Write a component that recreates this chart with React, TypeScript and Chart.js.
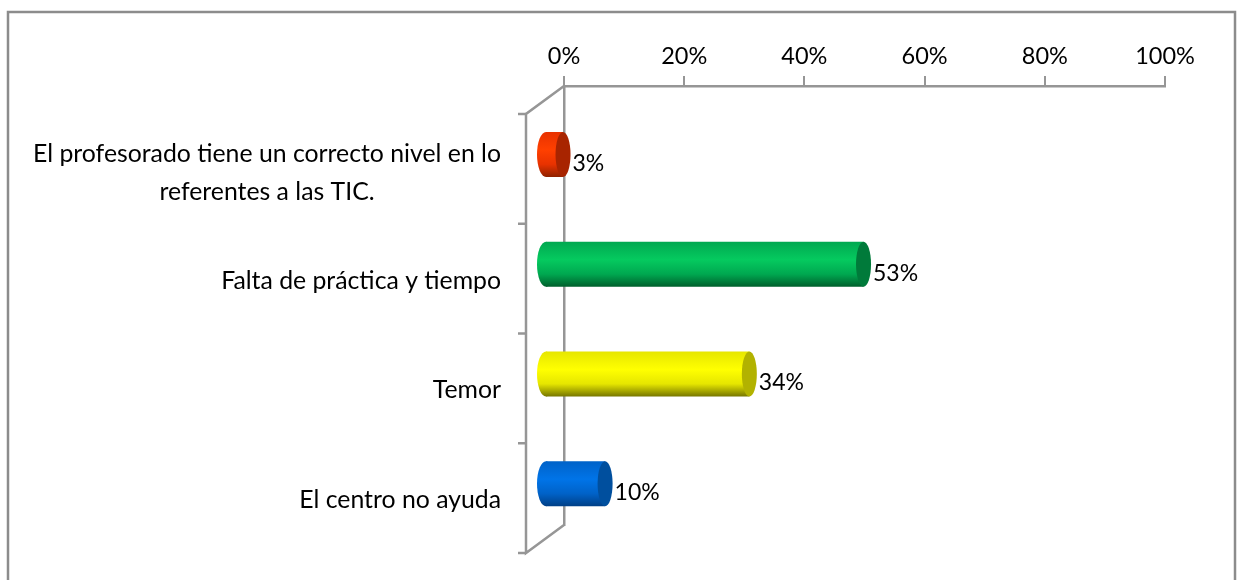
import React, { useEffect, useRef } from "react";
import { Chart, registerables } from "chart.js";

Chart.register(...registerables);

const categories: (string | string[])[] = [
  ["El profesorado tiene un correcto nivel en lo", "referentes a las TIC."],
  "Falta de práctica y tiempo",
  "Temor",
  "El centro no ayuda",
];
const values = [3, 53, 34, 10];
const xTicks = [0, 20, 40, 60, 80, 100];
const bodyEdge = ["#e83200", "#00a850", "#e6e600", "#0062c8"];
const bodyLight = ["#ff4000", "#05ca5f", "#ffff00", "#0074e8"];
const bodyDark = ["#8f2200", "#005f2c", "#767600", "#003f86"];
const capColors = ["#a82400", "#007a3a", "#b2b200", "#004f9e"];

const AXIS = "#969696";
const FONT = "Lato, Carlito, sans-serif";
const DEPTH_X = -38;
const DEPTH_Y = 28;
const BAR_DX = -19;
const BAR_DY = 13.6;
const CAP_RX = 7.5;
const BASE_RX = 9;

function bodyGradient(chart: any, i: number, h: number) {
  const cy = chart.scales.y.getPixelForValue(i);
  const g = chart.ctx.createLinearGradient(0, cy - h / 2, 0, cy + h / 2);
  g.addColorStop(0, bodyEdge[i]);
  g.addColorStop(0.4, bodyLight[i]);
  g.addColorStop(0.72, bodyEdge[i]);
  g.addColorStop(1, bodyDark[i]);
  return g;
}

const cylinderPlugin = {
  id: "cylinder",
  beforeDatasetsDraw(chart: any) {
    const { ctx, chartArea: a, scales } = chart;
    const y = scales.y;
    const fx = a.left + DEPTH_X;
    ctx.save();
    ctx.strokeStyle = AXIS;
    ctx.lineWidth = 2.5;
    ctx.beginPath();
    ctx.moveTo(a.left, a.top);
    ctx.lineTo(fx, a.top + DEPTH_Y);
    ctx.lineTo(fx, a.bottom + DEPTH_Y);
    ctx.lineTo(a.left, a.bottom);
    ctx.stroke();
    for (let i = 0; i <= categories.length; i++) {
      const ty = y.getPixelForValue(i - 0.5) + DEPTH_Y;
      ctx.beginPath();
      ctx.moveTo(fx - 8, ty);
      ctx.lineTo(fx, ty);
      ctx.stroke();
    }
    // category labels: right-aligned block, lines centred within it
    ctx.fillStyle = "#000";
    ctx.font = `24.8px ${FONT}`;
    ctx.textBaseline = "middle";
    ctx.textAlign = "center";
    categories.forEach((c, i) => {
      const lines = Array.isArray(c) ? c : [c];
      const w = Math.max(...lines.map((l) => ctx.measureText(l).width));
      const cy = y.getPixelForValue(i) + (lines.length > 1 ? 32 : 30);
      lines.forEach((l, k) => {
        ctx.fillText(l, 501 - w / 2, cy + (k - (lines.length - 1) / 2) * 38);
      });
    });
    ctx.restore();
  },
  beforeDatasetDraw(chart: any) {
    const { ctx } = chart;
    ctx.save();
    ctx.translate(BAR_DX, BAR_DY);
    chart.getDatasetMeta(0).data.forEach((el: any, i: number) => {
      const { y, height, base } = el.getProps(["y", "height", "base"], true);
      ctx.fillStyle = bodyGradient(chart, i, height);
      ctx.beginPath();
      ctx.ellipse(base, y, BASE_RX, height / 2, 0, 0, Math.PI * 2);
      ctx.fill();
    });
  },
  afterDatasetDraw(chart: any) {
    const { ctx } = chart;
    chart.getDatasetMeta(0).data.forEach((el: any, i: number) => {
      const { x, y, height } = el.getProps(["x", "y", "height"], true);
      ctx.fillStyle = capColors[i];
      ctx.beginPath();
      ctx.ellipse(x, y, CAP_RX, height / 2, 0, 0, Math.PI * 2);
      ctx.fill();
      ctx.fillStyle = "#000";
      ctx.font = `23px ${FONT}`;
      ctx.textAlign = "left";
      ctx.textBaseline = "middle";
      ctx.fillText(`${values[i]}%`, x + CAP_RX + 2, y + 9);
    });
    ctx.restore();
  },
  beforeDraw(chart: any) {
    const { ctx } = chart;
    ctx.save();
    ctx.strokeStyle = "#8c8c8c";
    ctx.lineWidth = 2.5;
    ctx.strokeRect(8, 12, 1227, 600);
    ctx.restore();
  },
};

export default function App() {
  const ref = useRef<HTMLCanvasElement | null>(null);

  useEffect(() => {
    document.body.style.margin = "0";
    document.body.style.background = "#fff";
    const chart = new Chart(ref.current!, {
      type: "bar",
      data: {
        labels: categories as any,
        datasets: [
          {
            data: values,
            clip: false as any,
            barPercentage: 0.41,
            categoryPercentage: 1,
            borderWidth: 0,
            backgroundColor: (c: any) => {
              const ch = c.chart;
              if (!ch.scales.y || !ch.chartArea) return bodyLight[c.dataIndex];
              const band = ch.chartArea.height / categories.length;
              return bodyGradient(ch, c.dataIndex, band * 0.41);
            },
          },
        ],
      },
      options: {
        indexAxis: "y",
        responsive: false,
        animation: false,
        layout: { padding: { top: 0, left: 0, right: 75, bottom: 55 } },
        plugins: { legend: { display: false }, tooltip: { enabled: false } },
        scales: {
          x: {
            position: "top",
            min: 0,
            max: 100,
            afterBuildTicks: (s: any) => {
              s.ticks = xTicks.map((value) => ({ value }));
            },
            afterFit: (s: any) => {
              s.height = 86;
            },
            grid: {
              drawOnChartArea: false,
              drawTicks: true,
              tickLength: 10,
              color: AXIS,
              lineWidth: 2,
            },
            border: { color: AXIS, width: 2.5 },
            ticks: {
              color: "#000",
              padding: 5,
              maxRotation: 0,
              font: { family: FONT, size: 23.5 },
              callback: (v: any) => `${v}%`,
            },
          },
          y: {
            afterFit: (s: any) => {
              s.width = 564;
            },
            grid: { display: false },
            border: { display: true, color: AXIS, width: 2.5 },
            ticks: { display: false },
          },
        },
      },
      plugins: [cylinderPlugin],
    } as any);
    return () => chart.destroy();
  }, []);

  return (
    <div style={{ position: "absolute", left: 0, top: 0, width: 1240, height: 580 }}>
      <canvas ref={ref} width={1240} height={580} style={{ display: "block" }} />
    </div>
  );
}
